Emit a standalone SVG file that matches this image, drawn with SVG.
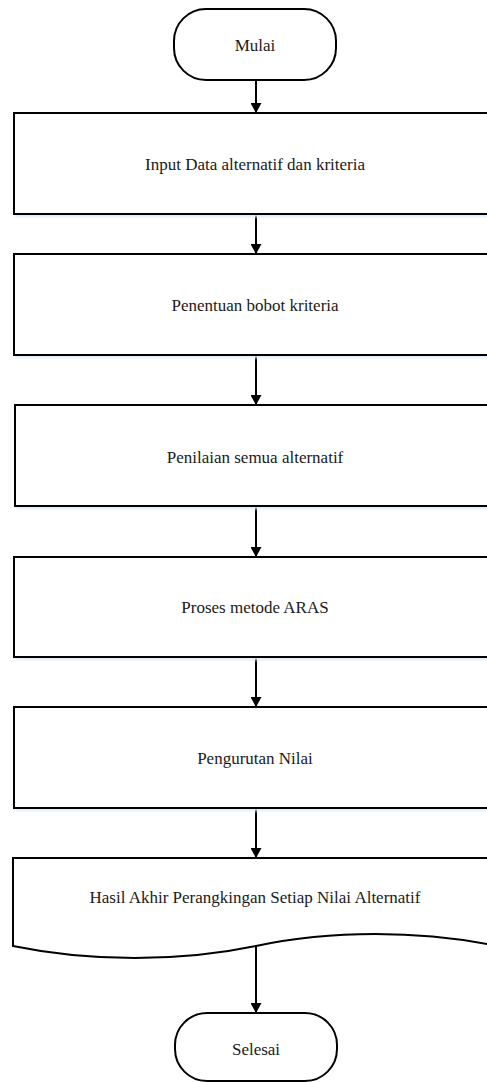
<svg xmlns="http://www.w3.org/2000/svg" width="487" height="1082" viewBox="0 0 487 1082">
  <style>
    .shape { fill: #ffffff; stroke: #000000; stroke-width: 2; }
    .shadow { fill: #dfe8f4; filter: url(#soft); }
    .label { font-family: "Liberation Serif", "Times New Roman", "DejaVu Serif", serif; font-size: 17px; fill: #1a1a1a; text-anchor: middle; dominant-baseline: central; }
    .flow { stroke: #000000; stroke-width: 2; fill: none; marker-end: url(#arrow); }
  </style>
  <defs>
    <marker id="arrow" markerWidth="10" markerHeight="11" refX="10" refY="5.5" orient="auto" markerUnits="userSpaceOnUse">
      <path d="M0,0 L10,5.5 L0,11 Z" fill="#000000"/>
    </marker>
    <filter id="soft" x="-5%" y="-20%" width="110%" height="140%">
      <feGaussianBlur stdDeviation="1.5"/>
    </filter>
  </defs>

  <rect width="487" height="1082" fill="#ffffff"/>

  <!-- connectors -->
  <g id="connectors">
    <line class="flow" x1="256" y1="80" x2="256" y2="113"/>
    <line class="flow" x1="256" y1="214" x2="256" y2="254"/>
    <line class="flow" x1="256" y1="355" x2="256" y2="405"/>
    <line class="flow" x1="256" y1="506" x2="256" y2="557"/>
    <line class="flow" x1="256" y1="657" x2="256" y2="707"/>
    <line class="flow" x1="256" y1="808" x2="256" y2="858"/>
    <line class="flow" x1="256" y1="946" x2="256" y2="1013"/>
  </g>

  <!-- start -->
  <g id="mulai">
    <rect class="shape" x="174" y="9" width="162" height="71" rx="32" ry="32"/>
    <text class="label" x="255" y="45">Mulai</text>
  </g>

  <!-- process steps -->
  <g id="input-data">
    <rect class="shadow" x="15" y="116" width="482" height="101"/>
    <rect class="shape" x="14" y="113" width="482" height="101"/>
    <text class="label" x="255" y="164">Input Data alternatif dan kriteria</text>
  </g>

  <g id="bobot-kriteria">
    <rect class="shadow" x="15" y="257" width="482" height="101"/>
    <rect class="shape" x="14" y="254" width="482" height="101"/>
    <text class="label" x="255" y="305">Penentuan bobot kriteria</text>
  </g>

  <g id="penilaian">
    <rect class="shadow" x="16" y="408" width="482" height="101"/>
    <rect class="shape" x="15" y="405" width="482" height="101"/>
    <text class="label" x="255" y="457">Penilaian semua alternatif</text>
  </g>

  <g id="aras">
    <rect class="shadow" x="15" y="560" width="482" height="100"/>
    <rect class="shape" x="14" y="557" width="482" height="100"/>
    <text class="label" x="255" y="607">Proses metode ARAS</text>
  </g>

  <g id="pengurutan">
    <rect class="shadow" x="15" y="710" width="482" height="101"/>
    <rect class="shape" x="14" y="707" width="482" height="101"/>
    <text class="label" x="255" y="758">Pengurutan Nilai</text>
  </g>

  <!-- output document -->
  <g id="hasil-akhir">
    <path class="shape" d="M13,858 L497,858 L497,946 C420,930 330,930 256,946 C180,962 90,962 13,946 Z"/>
    <text class="label" x="255" y="897">Hasil Akhir Perangkingan Setiap Nilai Alternatif</text>
  </g>

  <!-- end -->
  <g id="selesai">
    <rect class="shape" x="175" y="1013" width="162" height="68" rx="32" ry="32"/>
    <text class="label" x="256" y="1049">Selesai</text>
  </g>
</svg>
